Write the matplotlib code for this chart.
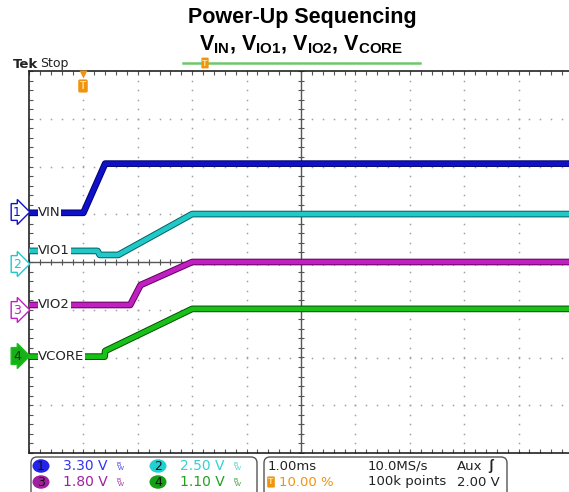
import matplotlib.pyplot as plt
import matplotlib.patheffects as pe
from matplotlib.patches import FancyBboxPatch, Ellipse
import numpy as np

# canais: nome, escala (V/div), posicao do terra (div)
nomes = ['VIN', 'VIO1', 'VIO2', 'VCORE']
escala = [3.30, 2.50, 1.80, 1.10]
terra = [1.03, 0.0, -1.0, -2.0]

# tempos em ms (0 = trigger), tensoes em V
t_vin = [-1, 0.0, 0.40, 9]
v_vin = [0.0, 0.0, 3.40, 3.40]
t_vio1 = [-1, 0.26, 0.30, 0.64, 2.0, 9]
v_vio1 = [0.58, 0.58, 0.37, 0.37, 2.51, 2.51]
t_vio2 = [-1, 0.86, 1.05, 2.0, 9]
v_vio2 = [0.18, 0.18, 0.93, 1.80, 1.80]
t_vcore = [-1, 0.39, 0.40, 2.0, 9]
v_vcore = [0.02, 0.02, 0.15, 1.12, 1.12]

cores = ['#1010c8', '#22c8c8', '#c020c0', '#18c018']
bordas = ['#000070', '#006060', '#600060', '#005000']

plt.rcParams['font.family'] = ['Liberation Sans', 'DejaVu Sans']
estreita = ['DejaVu Sans Condensed', 'DejaVu Sans']

fig = plt.figure(figsize=(5.69, 4.92), dpi=100)
ax = fig.add_axes([29 / 569, (492 - 453) / 492, 544 / 569, 382 / 492])
ax.set_xlim(-1, 9)
ax.set_ylim(-4, 4)

# grade pontilhada
for xg in range(0, 10):
    ys = np.arange(-4, 4.01, 0.2)
    ax.plot([xg] * len(ys), ys, ls='none', marker='s', ms=1.1, color='#a0a0a0', mec='none', zorder=1)
for yg in range(-3, 4):
    xs = np.arange(-1, 9.01, 0.2)
    ax.plot(xs, [yg] * len(xs), ls='none', marker='s', ms=1.1, color='#a0a0a0', mec='none', zorder=1)

# cruz central
ax.axvline(4, color='#555555', lw=1, zorder=1)
ax.axhline(0, color='#555555', lw=1, zorder=1)
xm = np.arange(-1, 9.01, 0.2)
ym = np.arange(-4, 4.01, 0.2)
ax.plot(xm, [0] * len(xm), ls='none', marker='|', ms=5, mew=0.8, color='#555555', zorder=1)
ax.plot([4] * len(ym), ym, ls='none', marker='_', ms=5, mew=0.8, color='#555555', zorder=1)

ax.xaxis.set_minor_locator(plt.MultipleLocator(0.2))
ax.yaxis.set_minor_locator(plt.MultipleLocator(0.2))
ax.tick_params(which='both', direction='in', length=3, width=0.8, color='#555555',
               top=True, bottom=True, left=True, right=False,
               labelbottom=False, labelleft=False)
for s in ['top', 'left', 'bottom']:
    ax.spines[s].set_color('#222222')
    ax.spines[s].set_linewidth(1.2)
ax.spines['right'].set_visible(False)

# tracos
series = [(t_vin, v_vin), (t_vio1, v_vio1), (t_vio2, v_vio2), (t_vcore, v_vcore)]
for i, (t, v) in enumerate(series):
    y = [terra[i] + vv / escala[i] for vv in v]
    ax.plot(t, y, color=cores[i], lw=3.4, solid_capstyle='butt', zorder=3,
            path_effects=[pe.Stroke(linewidth=4.8, foreground=bordas[i]), pe.Normal()])
    ax.text(-0.83, y[0], nomes[i], fontsize=9.5, family=estreita, va='center', ha='left',
            color='#222222', zorder=5,
            bbox=dict(facecolor='white', edgecolor='none', pad=0.4))

# camada de sobreposicao em pixels
ov = fig.add_axes([0, 0, 1, 1], zorder=5)
ov.set_xlim(0, 569)
ov.set_ylim(492, 0)
ov.axis('off')
ov.patch.set_alpha(0)

ov.text(302, 18, 'Power-Up Sequencing', fontsize=15.5, weight='bold', ha='center', va='center')
plt.rcParams['mathtext.fontset'] = 'custom'
plt.rcParams['mathtext.bf'] = 'Liberation Sans:bold'
plt.rcParams['mathtext.rm'] = 'Liberation Sans:bold'
ov.text(301, 45, r'$\mathbf{V_{IN}}$, $\mathbf{V_{IO1}}$, $\mathbf{V_{IO2}}$, $\mathbf{V_{CORE}}$',
        fontsize=15.5, weight='bold', ha='center', va='center')
ov.plot([183, 420], [63, 63], color='#6cc86c', lw=1.8)

ov.text(13, 64, 'Tek', fontsize=9.5, weight='bold', family=estreita,
        va='center', ha='left', color='#222222')
ov.text(40, 64, 'Stop', fontsize=9, family=estreita, va='center', ha='left', color='#222222')

# marcadores de trigger
laranja = '#f0940e'
ov.plot([83], [74], marker='v', ms=6, color=laranja, mec='none')
ov.text(83, 86, 'T', fontsize=7.5, weight='bold', color='#ffe0a0', ha='center', va='center',
        bbox=dict(boxstyle='round,pad=0.15', facecolor=laranja, edgecolor='none'))
ov.text(205, 63, 'T', fontsize=6.5, weight='bold', color='#ffe0a0', ha='center', va='center',
        bbox=dict(boxstyle='round,pad=0.1', facecolor=laranja, edgecolor='none'))

# marcadores de canal na esquerda
ypix = [212, 264, 310, 356]
for i in range(4):
    fc = '#18b018' if i == 3 else 'white'
    tc = '#0a3a0a' if i == 3 else cores[i]
    ov.text(17, ypix[i], str(i + 1), fontsize=9, family=estreita, color=tc, ha='center', va='center',
            bbox=dict(boxstyle='rarrow,pad=0.15', facecolor=fc, edgecolor=cores[i], lw=1))

# painel inferior
ov.add_patch(FancyBboxPatch((31, 457), 226, 40, boxstyle='round,pad=0,rounding_size=6',
                            facecolor='white', edgecolor='#555555', lw=1))
ov.add_patch(FancyBboxPatch((264, 457), 243, 40, boxstyle='round,pad=0,rounding_size=6',
                            facecolor='white', edgecolor='#555555', lw=1))

circ_cor = ['#2424e8', '#22d0d0', '#a020a0', '#14a014']
txt_cor = ['#3434f0', '#36d0d0', '#a020a0', '#20a020']
pos = [(41, 466), (158, 466), (41, 482), (158, 482)]
valores = ['3.30 V', '2.50 V', '1.80 V', '1.10 V']
for i in range(4):
    cx, cy = pos[i]
    ov.add_patch(Ellipse((cx, cy), 17, 13.5, facecolor=circ_cor[i], edgecolor='none'))
    ov.text(cx, cy + 0.5, str(i + 1), fontsize=9, family=estreita, color='#101010', ha='center', va='center')
    ov.text(cx + 22, cy, valores[i], fontsize=10, family=estreita, color=txt_cor[i], ha='left', va='center')
    ov.text(cx + 78, cy - 2, 'B', fontsize=4.5, color=txt_cor[i], ha='center', va='center')
    ov.text(cx + 80, cy + 2, 'W', fontsize=4.5, color=txt_cor[i], ha='center', va='center')

ov.text(268, 466, '1.00ms', fontsize=9.5, family=estreita, color='#222222', ha='left', va='center')
ov.text(271, 482, 'T', fontsize=6.5, weight='bold', color='#ffe0a0', ha='center', va='center',
        bbox=dict(boxstyle='round,pad=0.12', facecolor=laranja, edgecolor='none'))
ov.text(279, 482, '10.00 %', fontsize=9.5, family=estreita, color=laranja, ha='left', va='center')
ov.text(368, 466, '10.0MS/s', fontsize=9.5, family=estreita, color='#222222', ha='left', va='center')
ov.text(368, 482, '100k points', fontsize=9.5, family=estreita, color='#222222', ha='left', va='center')
ov.text(457, 466, 'Aux', fontsize=9.5, family=estreita, color='#222222', ha='left', va='center')
ov.text(491, 466, 'ʃ', fontsize=10, weight='bold', color='#222222', ha='center', va='center')
ov.text(500, 482, '2.00 V', fontsize=9.5, family=estreita, color='#222222', ha='right', va='center')

fig.savefig('out.png', dpi=100)
